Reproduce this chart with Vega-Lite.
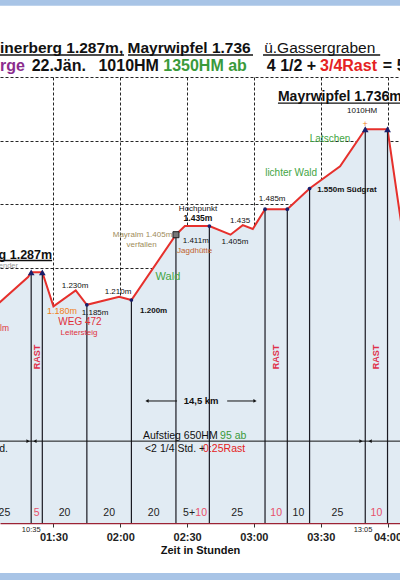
{
  "$schema": "https://vega.github.io/schema/vega-lite/v6.json",
  "width": 400,
  "height": 446,
  "autosize": {"type": "none"},
  "padding": {"left": 0, "top": 77, "right": 0, "bottom": 57},
  "background": "#ffffff",
  "config": {"view": {"stroke": null}, "font": "Liberation Sans", "text": {"font": "Liberation Sans"}},
  "datasets": {
    "profile": [
      {"t": 60, "e": 1156}, {"t": 78.6, "e": 1272}, {"t": 80, "e": 1287}, {"t": 85, "e": 1287},
      {"t": 90, "e": 1180}, {"t": 100, "e": 1230}, {"t": 105, "e": 1185}, {"t": 119.5, "e": 1210},
      {"t": 125, "e": 1200}, {"t": 145, "e": 1405}, {"t": 149, "e": 1432}, {"t": 160, "e": 1432},
      {"t": 169.5, "e": 1405}, {"t": 175, "e": 1435}, {"t": 179.5, "e": 1423}, {"t": 185, "e": 1485},
      {"t": 195, "e": 1485}, {"t": 205, "e": 1550}, {"t": 218.7, "e": 1620}, {"t": 230, "e": 1736},
      {"t": 240, "e": 1736}, {"t": 247, "e": 1400}
    ],
    "stops": [
      {"t": 80, "e": 1287, "k": "tri"}, {"t": 85, "e": 1287, "k": "tri"}, {"t": 105, "e": 1185, "k": "dot"},
      {"t": 125, "e": 1200, "k": "dot"}, {"t": 145, "e": 1405, "k": "sq"}, {"t": 160, "e": 1432, "k": "dot"},
      {"t": 185, "e": 1485, "k": "dot"}, {"t": 195, "e": 1485, "k": "dot"}, {"t": 205, "e": 1550, "k": "dot"},
      {"t": 230, "e": 1736, "k": "tri"}, {"t": 240, "e": 1736, "k": "tri"}
    ],
    "hlines": [
      {"t": 66, "t2": 245.6, "e": 757, "g": "auf"},
      {"t": 132, "t2": 145.5, "e": 883, "g": "km"},
      {"t": 168, "t2": 180.5, "e": 883, "g": "km"},
      {"t": 66, "t2": 121.7, "e": 1969, "g": "ul"},
      {"t": 123.5, "t2": 179.6, "e": 1969, "g": "ul"},
      {"t": 184.1, "t2": 236.7, "e": 1969, "g": "ul"},
      {"t": 66, "t2": 89.4, "e": 1324, "g": "ul"},
      {"t": 190.8, "t2": 245.6, "e": 1818, "g": "ul"}
    ],
    "arrows": [
      {"t": 78.6, "e": 757, "k": "r"}, {"t": 81.7, "e": 757, "k": "l"},
      {"t": 228.1, "e": 757, "k": "r"}, {"t": 232.2, "e": 757, "k": "l"},
      {"t": 132, "e": 883, "k": "l"}, {"t": 180.5, "e": 883, "k": "r"}
    ],
    "strips": [
      {"t": 66, "t2": 245.6, "e": 2160, "e2": 2124},
      {"t": 66, "t2": 245.6, "e": 343, "e2": 300}
    ],
    "notes": [
      {"t": 66, "e": 1975, "s": "inerberg 1.287m, Mayrwipfel 1.736", "g": "t1b"},
      {"t": 184.6, "e": 1975, "s": "ü.Gassergraben", "g": "t1"},
      {"t": 66, "e": 1919, "s": "rge", "g": "t2p"},
      {"t": 80.2, "e": 1919, "s": "22.Jän.", "g": "t2k"},
      {"t": 110.2, "e": 1919, "s": "1010HM", "g": "t2k"},
      {"t": 139.3, "e": 1919, "s": "1350HM ab", "g": "t2g"},
      {"t": 185.8, "e": 1919, "s": "4 1/2 +", "g": "t2k"},
      {"t": 209.7, "e": 1919, "s": "3/4Rast", "g": "t2r"},
      {"t": 237.9, "e": 1919, "s": "= 5", "g": "t2k"},
      {"t": 89.4, "e": 1330, "s": "rg 1.287m", "g": "rgR"},
      {"t": 190.8, "e": 1824, "s": "Mayrwipfel 1.736m", "g": "peak"},
      {"t": 74.1, "e": 1306, "s": "ender", "g": "grayR"},
      {"t": 66, "e": 1112, "s": "lm", "g": "redL"},
      {"t": 93.8, "e": 1165, "s": "1.180m", "g": "or"},
      {"t": 229.9, "e": 1752, "s": "+", "g": "or"},
      {"t": 99.7, "e": 1244, "s": "1.230m", "g": "sk"},
      {"t": 108.7, "e": 1159, "s": "1.185m", "g": "sk"},
      {"t": 119, "e": 1225, "s": "1.210m", "g": "sk"},
      {"t": 154.9, "e": 1486, "s": "Hochpunkt", "g": "sk"},
      {"t": 153.9, "e": 1385, "s": "1.411m", "g": "sk"},
      {"t": 171.5, "e": 1381, "s": "1.405m", "g": "sk"},
      {"t": 173.8, "e": 1448, "s": "1.435", "g": "sk"},
      {"t": 188.2, "e": 1517, "s": "1.485m", "g": "sk"},
      {"t": 228.6, "e": 1793, "s": "1010HM", "g": "sk"},
      {"t": 154.9, "e": 1457, "s": "1.435m", "g": "skb"},
      {"t": 128.9, "e": 1165, "s": "1.200m", "g": "skbL"},
      {"t": 208.4, "e": 1545, "s": "1.550m  Südgrat", "g": "skbL"},
      {"t": 101.9, "e": 1131, "s": "WEG 472", "g": "rd"},
      {"t": 101.5, "e": 1096, "s": "Leitersteig", "g": "rds"},
      {"t": 130, "e": 1404, "s": "Mayralm 1.405m", "g": "tan"},
      {"t": 129.6, "e": 1372, "s": "verfallen", "g": "tan"},
      {"t": 153.4, "e": 1354, "s": "Jagdhütte", "g": "br"},
      {"t": 196.7, "e": 1598, "s": "lichter Wald", "g": "gr"},
      {"t": 214.2, "e": 1705, "s": "Latschen", "g": "gr"},
      {"t": 141.4, "e": 1272, "s": "Wald", "g": "grb"},
      {"t": 156.3, "e": 883, "s": "14,5 km", "g": "km"},
      {"t": 130.2, "e": 773, "s": "Aufstieg 650HM", "g": "auK"},
      {"t": 131.1, "e": 732, "s": "<2 1/4 Std. +", "g": "auK"},
      {"t": 69.6, "e": 732, "s": "td.", "g": "auKR"},
      {"t": 164.8, "e": 773, "s": "95 ab", "g": "auG"},
      {"t": 157.2, "e": 732, "s": "0:25Rast", "g": "auR"},
      {"t": 82.5, "e": 1021, "s": "RAST", "g": "rast"},
      {"t": 190, "e": 1021, "s": "RAST", "g": "rast"},
      {"t": 235, "e": 1021, "s": "RAST", "g": "rast"},
      {"t": 68, "e": 531, "s": "25", "g": "segK"},
      {"t": 82.5, "e": 531, "s": "5", "g": "segR"},
      {"t": 95, "e": 531, "s": "20", "g": "segK"},
      {"t": 115, "e": 531, "s": "20", "g": "segK"},
      {"t": 135, "e": 531, "s": "20", "g": "segK"},
      {"t": 153.6, "e": 531, "s": "5+", "g": "segKR"},
      {"t": 153.7, "e": 531, "s": "10", "g": "segRL"},
      {"t": 172.5, "e": 531, "s": "25", "g": "segK"},
      {"t": 190, "e": 531, "s": "10", "g": "segR"},
      {"t": 200, "e": 531, "s": "10", "g": "segK"},
      {"t": 217.5, "e": 531, "s": "25", "g": "segK"},
      {"t": 235, "e": 531, "s": "10", "g": "segR"},
      {"t": 80, "e": 478, "s": "10:35", "g": "clk"},
      {"t": 229, "e": 478, "s": "13:05", "g": "clk"}
    ]
  },
  "encoding": {
    "x": {
      "field": "t", "type": "quantitative",
      "scale": {"domain": [66, 245.6], "nice": false, "zero": false},
      "axis": {
        "values": [60, 90, 120, 150, 180, 210, 240],
        "labelExpr": "(floor(datum.value/60) < 10 ? '0' : '') + floor(datum.value/60) + ':' + (datum.value % 60 < 10 ? '0' : '') + (datum.value % 60)",
        "grid": true, "gridColor": "#000000", "gridDash": [3, 2], "gridWidth": 1, "gridOpacity": 0.85,
        "domainColor": "#9b2335", "domainWidth": 1.5,
        "tickColor": "#333333", "tickSize": 4, "tickWidth": 1,
        "labelFont": "Liberation Sans", "labelFontSize": 11, "labelFontWeight": "bold", "labelColor": "#222222",
        "labelPadding": 4, "labelFlush": false, "labelOverlap": false,
        "title": "Zeit in Stunden", "titleFont": "Liberation Sans", "titleFontSize": 11, "titleFontWeight": "bold",
        "titleColor": "#111111", "titlePadding": 2
      }
    },
    "y": {
      "field": "e", "type": "quantitative",
      "scale": {"domain": [500, 1900], "nice": false, "zero": false},
      "axis": {
        "values": [1300, 1500, 1700, 1900], "grid": true, "gridColor": "#000000", "gridDash": [3, 2],
        "gridWidth": 1, "gridOpacity": 0.85, "labels": false, "ticks": false, "domain": false, "title": null
      }
    }
  },
  "layer": [
    {"data": {"name": "strips"}, "mark": {"type": "rect", "color": "#a8c4e6"},
     "encoding": {"x2": {"field": "t2"}, "y2": {"field": "e2"}}},
    {"data": {"name": "profile"}, "mark": {"type": "area", "color": "#e1ebf3", "opacity": 1, "clip": true},
     "encoding": {"y2": {"datum": 500}}},
    {"data": {"name": "profile"}, "mark": {"type": "line", "color": "#e6302c", "strokeWidth": 2, "clip": true},
     "encoding": {}},
    {"data": {"name": "stops"}, "mark": {"type": "rule", "color": "#1a1a22", "strokeWidth": 1.2},
     "encoding": {"y2": {"datum": 500}}},
    {"data": {"name": "hlines"}, "transform": [{"filter": "datum.g !== 'ul'"}],
     "mark": {"type": "rule", "color": "#111111", "strokeWidth": 1}, "encoding": {"x2": {"field": "t2"}}},
    {"data": {"name": "hlines"}, "transform": [{"filter": "datum.g === 'ul'"}],
     "mark": {"type": "rule", "color": "#111111", "strokeWidth": 1.3}, "encoding": {"x2": {"field": "t2"}}},
    {"data": {"name": "arrows"}, "transform": [{"filter": "datum.k === 'r'"}],
     "mark": {"type": "point", "shape": "triangle-right", "filled": true, "color": "#111111", "size": 14, "opacity": 1},
     "encoding": {}},
    {"data": {"name": "arrows"}, "transform": [{"filter": "datum.k === 'l'"}],
     "mark": {"type": "point", "shape": "triangle-left", "filled": true, "color": "#111111", "size": 14, "opacity": 1},
     "encoding": {}},
    {"data": {"name": "stops"}, "transform": [{"filter": "datum.k === 'tri'"}],
     "mark": {"type": "point", "shape": "triangle-up", "filled": true, "color": "#1a1f6b", "size": 45, "opacity": 1},
     "encoding": {}},
    {"data": {"name": "stops"}, "transform": [{"filter": "datum.k === 'dot'"}],
     "mark": {"type": "point", "shape": "circle", "filled": true, "color": "#1a1f6b", "size": 14, "opacity": 1},
     "encoding": {}},
    {"data": {"name": "stops"}, "transform": [{"filter": "datum.k === 'sq'"}],
     "mark": {"type": "point", "shape": "square", "filled": true, "fill": "#777777", "stroke": "#222222", "strokeWidth": 1, "size": 36, "opacity": 1},
     "encoding": {}},
    {"data": {"name": "notes"}, "transform": [{"filter": "datum.g === 't1b'"}],
     "mark": {"type": "text", "fontSize": 15.5, "fontWeight": "bold", "color": "#111111", "align": "left", "baseline": "alphabetic"},
     "encoding": {"text": {"field": "s"}}},
    {"data": {"name": "notes"}, "transform": [{"filter": "datum.g === 't1'"}],
     "mark": {"type": "text", "fontSize": 15.5, "color": "#111111", "align": "left", "baseline": "alphabetic"},
     "encoding": {"text": {"field": "s"}}},
    {"data": {"name": "notes"}, "transform": [{"filter": "datum.g === 't2k'"}],
     "mark": {"type": "text", "fontSize": 16, "fontWeight": "bold", "color": "#111111", "align": "left", "baseline": "alphabetic"},
     "encoding": {"text": {"field": "s"}}},
    {"data": {"name": "notes"}, "transform": [{"filter": "datum.g === 't2p'"}],
     "mark": {"type": "text", "fontSize": 16, "fontWeight": "bold", "color": "#8b2c8e", "align": "left", "baseline": "alphabetic"},
     "encoding": {"text": {"field": "s"}}},
    {"data": {"name": "notes"}, "transform": [{"filter": "datum.g === 't2g'"}],
     "mark": {"type": "text", "fontSize": 16, "fontWeight": "bold", "color": "#3a9a3a", "align": "left", "baseline": "alphabetic"},
     "encoding": {"text": {"field": "s"}}},
    {"data": {"name": "notes"}, "transform": [{"filter": "datum.g === 't2r'"}],
     "mark": {"type": "text", "fontSize": 16, "fontWeight": "bold", "color": "#e52222", "align": "left", "baseline": "alphabetic"},
     "encoding": {"text": {"field": "s"}}},
    {"data": {"name": "notes"}, "transform": [{"filter": "datum.g === 'rgR'"}],
     "mark": {"type": "text", "fontSize": 12.5, "fontWeight": "bold", "color": "#111111", "align": "right", "baseline": "alphabetic"},
     "encoding": {"text": {"field": "s"}}},
    {"data": {"name": "notes"}, "transform": [{"filter": "datum.g === 'peak'"}],
     "mark": {"type": "text", "fontSize": 14, "fontWeight": "bold", "color": "#111111", "align": "left", "baseline": "alphabetic"},
     "encoding": {"text": {"field": "s"}}},
    {"data": {"name": "notes"}, "transform": [{"filter": "datum.g === 'grayR'"}],
     "mark": {"type": "text", "fontSize": 7.5, "color": "#999999", "align": "right", "baseline": "middle"},
     "encoding": {"text": {"field": "s"}}},
    {"data": {"name": "notes"}, "transform": [{"filter": "datum.g === 'redL'"}],
     "mark": {"type": "text", "fontSize": 8.5, "color": "#e0303a", "align": "left", "baseline": "middle"},
     "encoding": {"text": {"field": "s"}}},
    {"data": {"name": "notes"}, "transform": [{"filter": "datum.g === 'or'"}],
     "mark": {"type": "text", "fontSize": 9, "color": "#f08020", "align": "center", "baseline": "middle"},
     "encoding": {"text": {"field": "s"}}},
    {"data": {"name": "notes"}, "transform": [{"filter": "datum.g === 'sk'"}],
     "mark": {"type": "text", "fontSize": 8, "color": "#111111", "align": "center", "baseline": "middle"},
     "encoding": {"text": {"field": "s"}}},
    {"data": {"name": "notes"}, "transform": [{"filter": "datum.g === 'skb'"}],
     "mark": {"type": "text", "fontSize": 8.5, "fontWeight": "bold", "color": "#111111", "align": "center", "baseline": "middle"},
     "encoding": {"text": {"field": "s"}}},
    {"data": {"name": "notes"}, "transform": [{"filter": "datum.g === 'skbL'"}],
     "mark": {"type": "text", "fontSize": 8, "fontWeight": "bold", "color": "#111111", "align": "left", "baseline": "middle"},
     "encoding": {"text": {"field": "s"}}},
    {"data": {"name": "notes"}, "transform": [{"filter": "datum.g === 'rd'"}],
     "mark": {"type": "text", "fontSize": 10, "color": "#e0303a", "align": "center", "baseline": "middle"},
     "encoding": {"text": {"field": "s"}}},
    {"data": {"name": "notes"}, "transform": [{"filter": "datum.g === 'rds'"}],
     "mark": {"type": "text", "fontSize": 8, "color": "#e0303a", "align": "center", "baseline": "middle"},
     "encoding": {"text": {"field": "s"}}},
    {"data": {"name": "notes"}, "transform": [{"filter": "datum.g === 'tan'"}],
     "mark": {"type": "text", "fontSize": 8, "color": "#a08c5a", "align": "center", "baseline": "middle"},
     "encoding": {"text": {"field": "s"}}},
    {"data": {"name": "notes"}, "transform": [{"filter": "datum.g === 'br'"}],
     "mark": {"type": "text", "fontSize": 8, "color": "#c0602a", "align": "center", "baseline": "middle"},
     "encoding": {"text": {"field": "s"}}},
    {"data": {"name": "notes"}, "transform": [{"filter": "datum.g === 'gr'"}],
     "mark": {"type": "text", "fontSize": 10, "color": "#44a544", "align": "center", "baseline": "middle"},
     "encoding": {"text": {"field": "s"}}},
    {"data": {"name": "notes"}, "transform": [{"filter": "datum.g === 'grb'"}],
     "mark": {"type": "text", "fontSize": 11, "color": "#44a544", "align": "center", "baseline": "middle"},
     "encoding": {"text": {"field": "s"}}},
    {"data": {"name": "notes"}, "transform": [{"filter": "datum.g === 'km'"}],
     "mark": {"type": "text", "fontSize": 9.5, "fontWeight": "bold", "color": "#111111", "align": "center", "baseline": "middle"},
     "encoding": {"text": {"field": "s"}}},
    {"data": {"name": "notes"}, "transform": [{"filter": "datum.g === 'auK'"}],
     "mark": {"type": "text", "fontSize": 10.5, "color": "#111111", "align": "left", "baseline": "middle"},
     "encoding": {"text": {"field": "s"}}},
    {"data": {"name": "notes"}, "transform": [{"filter": "datum.g === 'auKR'"}],
     "mark": {"type": "text", "fontSize": 10.5, "color": "#111111", "align": "right", "baseline": "middle"},
     "encoding": {"text": {"field": "s"}}},
    {"data": {"name": "notes"}, "transform": [{"filter": "datum.g === 'auG'"}],
     "mark": {"type": "text", "fontSize": 10.5, "color": "#3a9a3a", "align": "left", "baseline": "middle"},
     "encoding": {"text": {"field": "s"}}},
    {"data": {"name": "notes"}, "transform": [{"filter": "datum.g === 'auR'"}],
     "mark": {"type": "text", "fontSize": 10.5, "color": "#e52222", "align": "left", "baseline": "middle"},
     "encoding": {"text": {"field": "s"}}},
    {"data": {"name": "notes"}, "transform": [{"filter": "datum.g === 'rast'"}],
     "mark": {"type": "text", "fontSize": 9, "fontWeight": "bold", "color": "#e0304a", "align": "center", "baseline": "middle", "angle": 270},
     "encoding": {"text": {"field": "s"}}},
    {"data": {"name": "notes"}, "transform": [{"filter": "datum.g === 'segK'"}],
     "mark": {"type": "text", "fontSize": 10.5, "color": "#222222", "align": "center", "baseline": "middle"},
     "encoding": {"text": {"field": "s"}}},
    {"data": {"name": "notes"}, "transform": [{"filter": "datum.g === 'segKR'"}],
     "mark": {"type": "text", "fontSize": 10.5, "color": "#222222", "align": "right", "baseline": "middle"},
     "encoding": {"text": {"field": "s"}}},
    {"data": {"name": "notes"}, "transform": [{"filter": "datum.g === 'segR'"}],
     "mark": {"type": "text", "fontSize": 10.5, "color": "#e8506a", "align": "center", "baseline": "middle"},
     "encoding": {"text": {"field": "s"}}},
    {"data": {"name": "notes"}, "transform": [{"filter": "datum.g === 'segRL'"}],
     "mark": {"type": "text", "fontSize": 10.5, "color": "#e8506a", "align": "left", "baseline": "middle"},
     "encoding": {"text": {"field": "s"}}},
    {"data": {"name": "notes"}, "transform": [{"filter": "datum.g === 'clk'"}],
     "mark": {"type": "text", "fontSize": 7.5, "color": "#222222", "align": "center", "baseline": "middle"},
     "encoding": {"text": {"field": "s"}}}
  ]
}
